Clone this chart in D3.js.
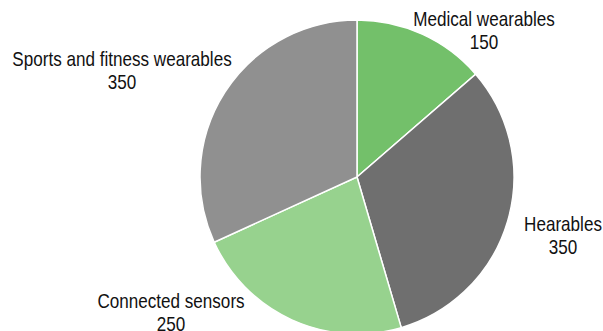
<!DOCTYPE html>
<html>
<head>
<meta charset="utf-8">
<script src="https://cdn.jsdelivr.net/npm/d3@7"></script>
<style>
  body { margin: 0; background: #fff; }
  svg { display: block; }
</style>
</head>
<body>
<div class="chart"></div>
<script>
var categories = ["Medical wearables", "Hearables", "Connected sensors", "Sports and fitness wearables"];
var values = [150, 350, 250, 350];
var colors = ["#73c06a", "#6f6f6f", "#97d28e", "#909090"];
// label anchor points (centre x, first baseline), one per slice
var labelPos = [[484, 26], [563, 231], [171, 308], [122, 66]];

var width = 603, height = 331;
var cx = 357, cy = 177, radius = 157;

var svg = d3.select(".chart")
    .append("svg")
    .attr("width", width)
    .attr("height", height);

var data = categories.map(function(c, i) { return {name: c, value: values[i], color: colors[i], pos: labelPos[i]}; });

var pie = d3.pie()
    .sort(null)
    .value(function(d) { return d.value; });

var arc = d3.arc()
    .innerRadius(0)
    .outerRadius(radius);

var g = svg.append("g")
    .attr("transform", "translate(" + cx + "," + cy + ")");

g.selectAll("path")
    .data(pie(data))
    .enter().append("path")
    .attr("d", arc)
    .attr("fill", function(d) { return d.data.color; })
    .attr("stroke", "#fff")
    .attr("stroke-width", 1.5);

// condensed look: regular sans squeezed horizontally
var labels = svg.selectAll(".label")
    .data(data)
    .enter().append("text")
    .attr("class", "label")
    .attr("transform", function(d) { return "translate(" + d.pos[0] + "," + d.pos[1] + ") scale(0.855,1)"; })
    .attr("text-anchor", "middle")
    .attr("font-family", "Liberation Sans, Arial, sans-serif")
    .attr("font-size", 20)
    .attr("fill", "#111");

labels.append("tspan")
    .attr("x", 0)
    .attr("y", 0)
    .text(function(d) { return d.name; });

labels.append("tspan")
    .attr("x", 0)
    .attr("y", 22.7)
    .text(function(d) { return d.value; });
</script>
</body>
</html>
